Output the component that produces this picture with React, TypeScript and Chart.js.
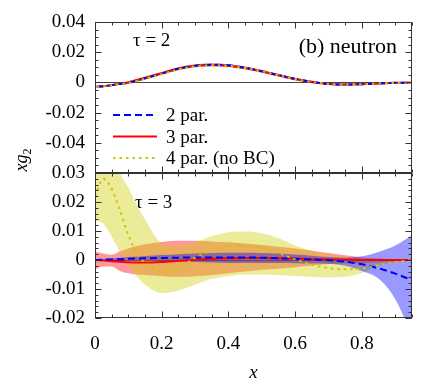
import React, { useEffect, useRef } from 'react';
import { Chart, registerables } from 'chart.js';

Chart.register(...registerables);

const FONT = '"Liberation Serif", "Times New Roman", serif';

// ---------- axis ticks ----------
const xTicks = [0, 0.2, 0.4, 0.6, 0.8];
const topYTicks = [-0.04, -0.02, 0, 0.02, 0.04];
const topYMajor = [-0.06, -0.04, -0.02, 0, 0.02, 0.04];
const botYTicks = [-0.02, -0.01, 0, 0.01, 0.02, 0.03];

// ---------- legend ----------
const legendLabels = ['2 par.', '3 par.', '4 par. (no BC)'];

// ---------- top panel (tau = 2) ----------
const topX = [0.005, 0.025, 0.05, 0.075, 0.1, 0.15, 0.2, 0.25, 0.3, 0.35, 0.4, 0.45, 0.5, 0.55, 0.6, 0.65, 0.7, 0.75, 0.8, 0.85, 0.9, 0.95];
const top2par = [-0.0029, -0.0025, -0.0018, -0.0010, -0.0002, 0.0027, 0.0058, 0.0090, 0.0110, 0.0117, 0.0113, 0.0097, 0.0074, 0.0048, 0.0023, 0.0004, -0.0010, -0.0014, -0.0012, -0.0007, -0.0003, -0.0001];
const top3par = [-0.0029, -0.0025, -0.0018, -0.0009, 0.0000, 0.0030, 0.0061, 0.0092, 0.0110, 0.0116, 0.0111, 0.0095, 0.0073, 0.0047, 0.0022, 0.0003, -0.0010, -0.0014, -0.0012, -0.0007, -0.0003, -0.0001];
const top4par = [-0.0029, -0.0026, -0.0019, -0.0011, -0.0004, 0.0024, 0.0055, 0.0086, 0.0106, 0.0113, 0.0110, 0.0095, 0.0073, 0.0047, 0.0022, 0.0003, -0.0010, -0.0014, -0.0012, -0.0007, -0.0003, -0.0001];
const top2err = [0.0004, 0.0004, 0.0004, 0.0005, 0.0005, 0.0006, 0.0006, 0.0007, 0.0007, 0.0007, 0.0007, 0.0007, 0.0007, 0.0007, 0.0006, 0.0006, 0.0005, 0.0005, 0.0004, 0.0003, 0.0002, 0.0001];
const top3err = [0.0006, 0.0006, 0.0007, 0.0008, 0.0009, 0.0010, 0.0010, 0.0010, 0.0010, 0.0010, 0.0010, 0.0010, 0.0010, 0.0010, 0.0009, 0.0009, 0.0008, 0.0007, 0.0006, 0.0004, 0.0003, 0.0002];
const top4err = [0.0005, 0.0005, 0.0006, 0.0006, 0.0007, 0.0008, 0.0008, 0.0008, 0.0007, 0.0007, 0.0007, 0.0007, 0.0006, 0.0006, 0.0006, 0.0005, 0.0005, 0.0004, 0.0004, 0.0003, 0.0002, 0.0001];

// ---------- bottom panel (tau = 3) ----------
const botX = [0, 0.025, 0.05, 0.075, 0.1, 0.125, 0.15, 0.2, 0.25, 0.3, 0.35, 0.4, 0.45, 0.5, 0.55, 0.6, 0.65, 0.7, 0.75, 0.8, 0.85, 0.9, 0.95];
const bot2par = [0, 0.0001, 0.0002, 0.0003, 0.0004, 0.0005, 0.0006, 0.0007, 0.0008, 0.0009, 0.0009, 0.0009, 0.0009, 0.0008, 0.0006, 0.0004, 0.0002, -0.0001, -0.0006, -0.0015, -0.0029, -0.0047, -0.0070];
const bot2hi = [0.0002, 0.0004, 0.0006, 0.0008, 0.0010, 0.0012, 0.0014, 0.0017, 0.0020, 0.0022, 0.0024, 0.0025, 0.0025, 0.0024, 0.0022, 0.0019, 0.0015, 0.0010, 0.0008, 0.0013, 0.0028, 0.0050, 0.0085];
const bot2lo = [-0.0002, -0.0002, -0.0002, -0.0002, -0.0002, -0.0002, -0.0002, -0.0003, -0.0005, -0.0007, -0.0009, -0.0010, -0.0010, -0.0010, -0.0010, -0.0011, -0.0012, -0.0013, -0.0020, -0.0038, -0.0065, -0.0135, -0.0260];
const bot3par = [0, -0.0002, -0.0004, -0.0006, -0.0008, -0.0009, -0.0009, -0.0007, -0.0003, 0.0001, 0.0004, 0.0006, 0.0007, 0.0007, 0.0006, 0.0005, 0.0003, 0.0002, 0.0001, 0, 0, 0, 0];
const bot3hi = [0.0030, 0.0022, 0.0018, 0.0030, 0.0040, 0.0048, 0.0054, 0.0062, 0.0066, 0.0066, 0.0064, 0.0061, 0.0057, 0.0052, 0.0046, 0.0040, 0.0032, 0.0024, 0.0016, 0.0009, 0.0005, 0.0002, 0.0001];
const bot3lo = [-0.0032, -0.0022, -0.0022, -0.0038, -0.0046, -0.0050, -0.0052, -0.0056, -0.0058, -0.0056, -0.0052, -0.0046, -0.0040, -0.0034, -0.0030, -0.0025, -0.0019, -0.0014, -0.0012, -0.0011, -0.0008, -0.0004, -0.0001];
const bot4par = [0.0220, 0.0280, 0.0245, 0.0170, 0.0085, 0.0025, -0.0010, -0.0040, -0.0028, 0.0008, 0.0033, 0.0048, 0.0049, 0.0041, 0.0024, 0.0002, -0.0016, -0.0028, -0.0032, -0.0029, -0.0018, -0.0007, 0];
const bot4hi = [0.0450, 0.0450, 0.0400, 0.0300, 0.0250, 0.0190, 0.0140, 0.0058, 0.0047, 0.0062, 0.0082, 0.0096, 0.0098, 0.0092, 0.0075, 0.0050, 0.0032, 0.0020, 0.0010, 0.0004, 0.0002, 0.0001, 0];
const bot4lo = [0.0135, 0.0125, 0.0080, 0.0028, -0.0017, -0.0057, -0.0085, -0.0114, -0.0105, -0.0085, -0.0065, -0.0055, -0.0050, -0.0050, -0.0052, -0.0055, -0.0058, -0.0060, -0.0058, -0.0045, -0.0020, -0.0008, 0];

// ---------- styles ----------
const C_BLUE = '#0000ff';
const C_RED = '#ff0000';
const C_YEL = 'rgb(200,200,0)';
const B_BLUE = 'rgba(0,0,255,0.4)';
const B_RED = 'rgba(255,0,0,0.4)';
const B_YEL = 'rgba(204,204,0,0.4)';
const DASH_BLUE = [7, 4];
const DASH_YEL = [2.5, 4];

const pts = (xs: number[], ys: number[]) => xs.map((x, i) => ({ x, y: ys[i] }));

const lineDs = (label: string, xs: number[], ys: number[], color: string, dash: number[], order: number) => ({
  label,
  data: pts(xs, ys),
  borderColor: color,
  borderWidth: 2,
  borderDash: dash,
  pointRadius: 0,
  fill: false,
  order,
  cubicInterpolationMode: 'monotone',
});

const bandDs = (xs: number[], lo: number[], hi: number[], color: string, order: number) => [
  { label: '_lo', data: pts(xs, lo), borderWidth: 0, pointRadius: 0, fill: false, order, cubicInterpolationMode: 'monotone' },
  { label: '_hi', data: pts(xs, hi), borderWidth: 0, pointRadius: 0, fill: '-1', backgroundColor: color, order, cubicInterpolationMode: 'monotone' },
];

const fmtY = (v: number) => (Math.abs(v) < 1e-9 ? '0' : Number(v).toFixed(2));
const fmtX = (v: number) => (Math.abs(v) < 1e-9 ? '0' : Number(v).toFixed(1));

// frame with inward ticks on all four sides, plus zero line
const frameTicks = {
  id: 'frameTicks',
  beforeDatasetsDraw(chart: any) {
    const { ctx, chartArea: a, scales } = chart;
    const y0 = Math.round(scales.y.getPixelForValue(0)) + 0.5;
    ctx.save();
    ctx.strokeStyle = '#444';
    ctx.lineWidth = 1;
    ctx.beginPath();
    ctx.moveTo(a.left, y0);
    ctx.lineTo(a.right, y0);
    ctx.stroke();
    ctx.restore();
  },
  afterDraw(chart: any, _args: any, opts: any) {
    const { ctx, chartArea: a, scales } = chart;
    const xs = scales.x, ys = scales.y;
    const L = Math.round(a.left) + 0.5, R = Math.round(a.right) - 0.5;
    const T = Math.round(a.top) + 0.5, B = Math.round(a.bottom) - 0.5;
    ctx.save();
    ctx.strokeStyle = '#333';
    ctx.lineWidth = 1;
    ctx.beginPath();
    const xt = (v: number, len: number) => {
      const p = Math.round(xs.getPixelForValue(v)) + 0.5;
      ctx.moveTo(p, B); ctx.lineTo(p, B - len);
      ctx.moveTo(p, T); ctx.lineTo(p, T + len);
    };
    const yt = (v: number, len: number) => {
      const p = Math.round(ys.getPixelForValue(v)) + 0.5;
      ctx.moveTo(L, p); ctx.lineTo(L + len, p);
      ctx.moveTo(R, p); ctx.lineTo(R - len, p);
    };
    for (let v = 0; v <= xs.max + 1e-9; v += opts.xMinor) xt(v, 3);
    xTicks.forEach((v) => xt(v, 6));
    for (let v = ys.min; v <= ys.max + 1e-9; v += opts.yMinor) yt(v, 3);
    (opts.yMajor as number[]).forEach((v) => yt(v, 6));
    ctx.stroke();
    ctx.strokeRect(L, T, R - L, B - T);
    ctx.restore();
  },
};

// panel annotations: text labels, legend, shared y title
const panelText = {
  id: 'panelText',
  afterDraw(chart: any, _args: any, opts: any) {
    const { ctx, chartArea: a } = chart;
    ctx.save();
    ctx.fillStyle = '#000';
    ctx.textBaseline = 'alphabetic';
    (opts.texts || []).forEach((t: any) => {
      ctx.font = `${t.size}px ${FONT}`;
      ctx.textAlign = t.align;
      ctx.fillText(t.text, a.left + t.dx, a.top + t.dy);
    });
    if (opts.legend) {
      const styles = [
        { c: C_BLUE, d: DASH_BLUE },
        { c: C_RED, d: [] },
        { c: C_YEL, d: DASH_YEL },
      ];
      legendLabels.forEach((lab, i) => {
        const y = a.top + 93 + i * 21.5;
        ctx.strokeStyle = styles[i].c;
        ctx.lineWidth = 2;
        ctx.setLineDash(styles[i].d);
        ctx.beginPath();
        ctx.moveTo(a.left + 18, y);
        ctx.lineTo(a.left + 62, y);
        ctx.stroke();
        ctx.setLineDash([]);
        ctx.font = `19px ${FONT}`;
        ctx.textAlign = 'left';
        ctx.fillText(lab, a.left + 71, y + 6);
      });
    }
    if (opts.yTitle) {
      ctx.translate(27, 160);
      ctx.rotate(-Math.PI / 2);
      ctx.font = `italic 18px ${FONT}`;
      const w1 = ctx.measureText('xg').width;
      ctx.font = `12px ${FONT}`;
      const w2 = ctx.measureText('2').width;
      const s = -(w1 + w2) / 2;
      ctx.textAlign = 'left';
      ctx.font = `italic 18px ${FONT}`;
      ctx.fillText('xg', s, 0);
      ctx.font = `12px ${FONT}`;
      ctx.fillText('2', s + w1, 4);
    }
    ctx.restore();
  },
};

const yScale = (min: number, max: number, ticks: number[]) => ({
  type: 'linear',
  min,
  max,
  afterFit: (s: any) => { s.width = 95; },
  afterBuildTicks: (s: any) => { s.ticks = ticks.map((v) => ({ value: v })); },
  ticks: { callback: (v: any) => fmtY(v), font: { family: FONT, size: 19 }, color: '#000', padding: 10 },
  grid: { display: false, drawTicks: false },
  border: { display: false },
});

export default function App() {
  const topRef = useRef<HTMLCanvasElement>(null);
  const botRef = useRef<HTMLCanvasElement>(null);

  useEffect(() => {
    const top = new Chart(topRef.current as HTMLCanvasElement, {
      type: 'line',
      data: {
        datasets: [
          lineDs('4 par. (no BC)', topX, top4par, C_YEL, DASH_YEL, 1),
          lineDs('2 par.', topX, top2par, C_BLUE, DASH_BLUE, 2),
          lineDs('3 par.', topX, top3par, C_RED, [], 3),
          ...bandDs(topX, top3par.map((v, i) => v - top3err[i]), top3par.map((v, i) => v + top3err[i]), B_RED, 12),
          ...bandDs(topX, top4par.map((v, i) => v - top4err[i]), top4par.map((v, i) => v + top4err[i]), B_YEL, 11),
          ...bandDs(topX, top2par.map((v, i) => v - top2err[i]), top2par.map((v, i) => v + top2err[i]), B_BLUE, 10),
        ] as any,
      },
      options: {
        animation: false,
        responsive: false,
        events: [],
        layout: { padding: { left: 0, right: 29, top: 22, bottom: 213 } },
        plugins: {
          legend: { display: false },
          tooltip: { enabled: false },
          frameTicks: { xMinor: 0.05, yMinor: 0.005, yMajor: topYMajor },
          panelText: {
            texts: [
              { text: 'τ = 2', dx: 38, dy: 24, size: 19, align: 'left' },
              { text: '(b) neutron', dx: 302, dy: 31, size: 22, align: 'right' },
            ],
            legend: true,
            yTitle: true,
          },
        } as any,
        scales: {
          x: { type: 'linear', min: 0, max: 0.95, display: false },
          y: yScale(-0.06, 0.04, topYTicks),
        } as any,
      },
      plugins: [frameTicks, panelText],
    });

    const bot = new Chart(botRef.current as HTMLCanvasElement, {
      type: 'line',
      data: {
        datasets: [
          lineDs('4 par. (no BC)', botX, bot4par, C_YEL, DASH_YEL, 1),
          lineDs('2 par.', botX, bot2par, C_BLUE, DASH_BLUE, 2),
          lineDs('3 par.', botX, bot3par, C_RED, [], 3),
          ...bandDs(botX, bot3lo, bot3hi, B_RED, 12),
          ...bandDs(botX, bot4lo, bot4hi, B_YEL, 11),
          ...bandDs(botX, bot2lo, bot2hi, B_BLUE, 10),
        ] as any,
      },
      options: {
        animation: false,
        responsive: false,
        events: [],
        layout: { padding: { left: 0, right: 29, top: 173, bottom: 0 } },
        plugins: {
          legend: { display: false },
          tooltip: { enabled: false },
          frameTicks: { xMinor: 0.05, yMinor: 0.002, yMajor: botYTicks },
          panelText: {
            texts: [{ text: 'τ = 3', dx: 40, dy: 35, size: 19, align: 'left' }],
          },
        } as any,
        scales: {
          x: {
            type: 'linear',
            min: 0,
            max: 0.95,
            afterFit: (s: any) => { s.height = 68; },
            afterBuildTicks: (s: any) => { s.ticks = xTicks.map((v) => ({ value: v })); },
            ticks: { callback: (v: any) => fmtX(v), font: { family: FONT, size: 19 }, color: '#000', padding: 15, maxRotation: 0, autoSkip: false },
            grid: { display: false, drawTicks: false },
            border: { display: false },
            title: { display: true, text: 'x', color: '#000', font: { family: FONT, size: 19, style: 'italic' }, padding: { top: 0, bottom: 2 } },
          },
          y: yScale(-0.02, 0.03, botYTicks),
        } as any,
      },
      plugins: [frameTicks, panelText],
    });

    return () => {
      top.destroy();
      bot.destroy();
    };
  }, []);

  const cs: React.CSSProperties = { position: 'absolute', left: 0, top: 0, width: 441, height: 386 };
  return (
    <div style={{ position: 'absolute', left: 0, top: 0, width: 441, height: 386, background: '#fff' }}>
      <canvas ref={botRef} width={441} height={386} style={cs} />
      <canvas ref={topRef} width={441} height={386} style={cs} />
    </div>
  );
}
